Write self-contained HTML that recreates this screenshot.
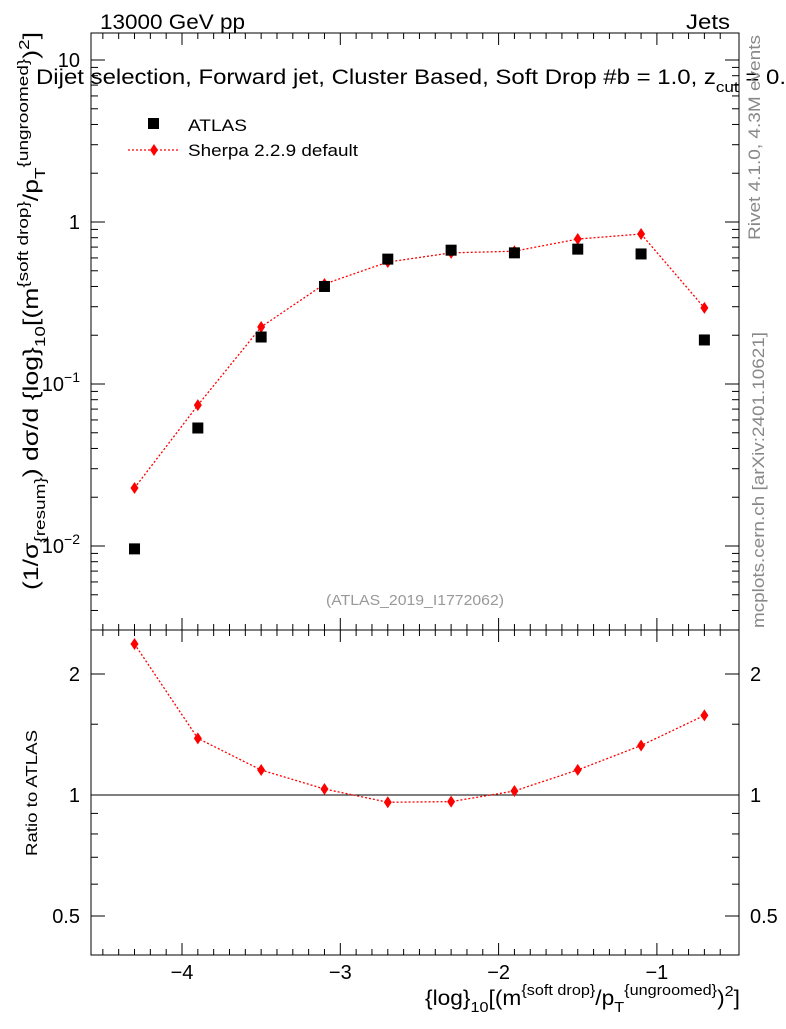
<!DOCTYPE html>
<html><head><meta charset="utf-8"><style>
body{margin:0;background:#fff;}
svg text{font-family:"Liberation Sans",Arial,sans-serif;}
</style></head><body>
<svg id="c" width="786" height="1024" xmlns="http://www.w3.org/2000/svg">
<g id="g"></g>
<text x="100" y="29" font-size="21" textLength="145" lengthAdjust="spacingAndGlyphs">13000 GeV pp</text>
<text x="686" y="29" font-size="21" textLength="44" lengthAdjust="spacingAndGlyphs">Jets</text>
<text x="36" y="84" font-size="21" textLength="750" lengthAdjust="spacingAndGlyphs">Dijet selection, Forward jet, Cluster Based, Soft Drop #b = 1.0, z<tspan dy="8" font-size="15">cut</tspan><tspan dy="-8"> = 0.</tspan></text>
<text x="188" y="131" font-size="17" textLength="59" lengthAdjust="spacingAndGlyphs">ATLAS</text>
<text x="188" y="156" font-size="17" textLength="170" lengthAdjust="spacingAndGlyphs">Sherpa 2.2.9 default</text>
<text x="326" y="605" font-size="15" fill="#999" textLength="178" lengthAdjust="spacingAndGlyphs">(ATLAS_2019_I1772062)</text>
<text transform="translate(760,240) rotate(-90)" font-size="17" fill="#888" textLength="205" lengthAdjust="spacingAndGlyphs">Rivet 4.1.0,  4.3M events</text>
<text transform="translate(764,628) rotate(-90)" font-size="17" fill="#888" textLength="296" lengthAdjust="spacingAndGlyphs">mcplots.cern.ch [arXiv:2401.10621]</text>
<text transform="translate(38,590) rotate(-90)" font-size="21" textLength="558" lengthAdjust="spacingAndGlyphs">(1/σ<tspan dy="7" font-size="15">{resum}</tspan><tspan dy="-7">) dσ/d {log}</tspan><tspan dy="7" font-size="15">10</tspan><tspan dy="-7">[(m</tspan><tspan dy="-10" font-size="15">{soft drop}</tspan><tspan dy="10">/p</tspan><tspan dy="7" font-size="15">T</tspan><tspan dy="-17" font-size="15">{ungroomed}</tspan><tspan dy="10">)</tspan><tspan dy="-9" font-size="15">2</tspan><tspan dy="9">]</tspan></text>
<text transform="translate(37,856) rotate(-90)" font-size="16" textLength="126" lengthAdjust="spacingAndGlyphs">Ratio to ATLAS</text>
<text x="425" y="1005" font-size="21" textLength="315" lengthAdjust="spacingAndGlyphs">{log}<tspan dy="7" font-size="15">10</tspan><tspan dy="-7">[(m</tspan><tspan dy="-10" font-size="15">{soft drop}</tspan><tspan dy="10">/p</tspan><tspan dy="7" font-size="15">T</tspan><tspan dy="-17" font-size="15">{ungroomed}</tspan><tspan dy="10">)</tspan><tspan dy="-9" font-size="15">2</tspan><tspan dy="9">]</tspan></text>
</svg>
<script>
const xCats=[-4.3,-3.9,-3.5,-3.1,-2.7,-2.3,-1.9,-1.5,-1.1,-0.7];
const atlasVals=[0.0096,0.0535,0.195,0.40,0.59,0.67,0.645,0.68,0.635,0.187];
const sherpaVals=[0.0228,0.074,0.225,0.414,0.566,0.645,0.66,0.785,0.843,0.295];
const xTicks=[-4,-3,-2,-1];
const yTicks=[0.01,0.1,1,10];
const rTicks=[0.5,1,2];

const NS="http://www.w3.org/2000/svg";
const g=document.getElementById('g');
function el(t,a,p){const e=document.createElementNS(NS,t);for(const k in a)e.setAttribute(k,a[k]);(p||g).appendChild(e);return e;}
const L=91,R=739,T=33,M=630,B=955;
const X=v=>182+(v+4)*158.3;
const Y=v=>222-Math.log10(v)*162;
const RY=v=>795-Math.log2(v)*121;

let f1=el('rect',{x:L,y:T,width:R-L,height:M-T,fill:'none',stroke:'#000','stroke-width':1});

let f2=el('rect',{x:L,y:M,width:R-L,height:B-M,fill:'none',stroke:'#000','stroke-width':1});


for(let v=-4.5;v<=-0.5;v+=0.1){
  const x=X(v); if(x<L||x>R)continue;
  const maj=Math.abs(v-Math.round(v))<0.01; const len=maj?12:6;
  [[T,1],[M,-1],[M,1],[B,-1]].forEach(([y,d])=>el('line',{x1:x,x2:x,y1:y,y2:y+d*len,stroke:'#000'}));
}
xTicks.forEach(v=>{const t=el('text',{x:X(v),y:979,'font-size':20,'text-anchor':'middle'});t.textContent='\u2212'+Math.abs(v);
});

for(let d=-3;d<=1;d++)for(let m=1;m<10;m++){
  const v=m*Math.pow(10,d),y=Y(v); if(y<T||y>M)continue;
  const len=m==1?14:7;
  el('line',{x1:L,x2:L+len,y1:y,y2:y,stroke:'#000'});el('line',{x1:R,x2:R-len,y1:y,y2:y,stroke:'#000'});
}
const ylab={0.01:['10','\u22122'],0.1:['10','\u22121'],1:['1',''],10:['10','']};
yTicks.forEach(v=>{const t=el('text',{x:80,y:Y(v)+7,'font-size':20,'text-anchor':'end'});
 t.innerHTML=ylab[v][1]?`${ylab[v][0]}<tspan dy="-9" font-size="14">${ylab[v][1]}</tspan>`:ylab[v][0];
 });

[0.5,0.6,0.7,0.8,0.9,1,1.5,2].forEach(v=>{const y=RY(v);const len=[0.5,1,2].includes(v)?14:7;
 el('line',{x1:L,x2:L+len,y1:y,y2:y,stroke:'#000'});el('line',{x1:R,x2:R-len,y1:y,y2:y,stroke:'#000'});});
rTicks.forEach(v=>{[[80,'end'],[750,'start']].forEach(([x,a])=>{const t=el('text',{x:x,y:RY(v)+7,'font-size':20,'text-anchor':a});t.textContent=String(v);
 });});
let rl=el('line',{x1:L,x2:R,y1:RY(1),y2:RY(1),stroke:'#000'});


function diamond(x,y,name){const p=el('polygon',{points:`${x},${y-6} ${x+4},${y} ${x},${y+6} ${x-4},${y}`,fill:'#f00'});
 }

let pl=el('polyline',{points:xCats.map((x,i)=>X(x)+','+Y(sherpaVals[i])).join(' '),fill:'none',stroke:'#f00','stroke-dasharray':'2,2','stroke-width':1.3});

xCats.forEach((x,i)=>diamond(X(x),Y(sherpaVals[i]),'sherpa-point'));
xCats.forEach((x,i)=>{const r=el('rect',{x:X(x)-5.5,y:Y(atlasVals[i])-5.5,width:11,height:11,fill:'#000'});
 });

const ratios=sherpaVals.map((s,i)=>s/atlasVals[i]);
let rp=el('polyline',{points:xCats.map((x,i)=>X(x)+','+RY(ratios[i])).join(' '),fill:'none',stroke:'#f00','stroke-dasharray':'2,2','stroke-width':1.3});

xCats.forEach((x,i)=>diamond(X(x),RY(ratios[i]),'ratio-point'));

let lr=el('rect',{x:148,y:118,width:11,height:11,fill:'#000'});
el('line',{x1:128,x2:180,y1:150,y2:150,stroke:'#f00','stroke-dasharray':'2,2','stroke-width':1.3});
diamond(154,150,'legend-sherpa-marker');
</script>
</body></html>
